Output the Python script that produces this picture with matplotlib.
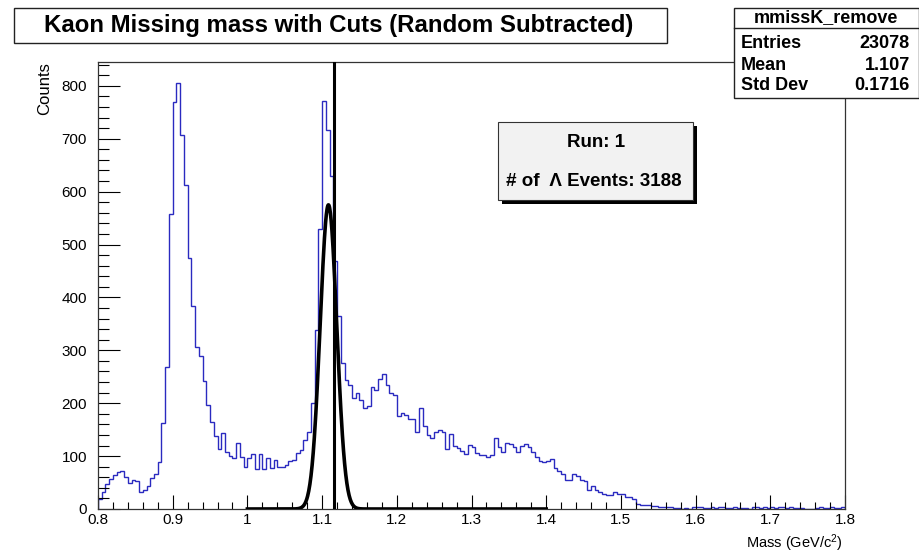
import numpy as np
import matplotlib
matplotlib.use("Agg")
import matplotlib.pyplot as plt
from matplotlib.patches import Rectangle
from matplotlib.ticker import MultipleLocator

plt.rcParams['font.family'] = ['Liberation Sans', 'DejaVu Sans']
plt.rcParams['mathtext.fontset'] = 'custom'
plt.rcParams['mathtext.rm'] = 'Liberation Sans'
plt.rcParams['mathtext.it'] = 'Liberation Sans:italic'

# ---------------- data ----------------
x_min, x_max, n_bins = 0.8, 1.8, 200
counts_a = [18, 33, 47, 56, 64, 69, 72, 61, 50, 54, 52, 32, 36, 43, 58, 66, 89, 162, 269, 557,
            769, 805, 707, 613, 474, 384, 307, 290, 242, 197, 165, 138, 113, 144, 108, 100, 97, 124, 98, 79]
counts_b = [96, 104, 75, 104, 75, 96, 78, 92, 80, 80, 83, 90, 93, 105, 112, 130, 146, 200, 339, 530,
            772, 717, 629, 468, 364, 276, 244, 235, 209, 219, 206, 190, 195, 230, 225, 245, 255, 235, 220, 216]
counts_c = [175, 181, 177, 170, 170, 146, 190, 156, 140, 134, 146, 149, 146, 113, 142, 119, 115, 110, 104, 121,
            118, 105, 102, 102, 99, 102, 134, 118, 108, 125, 123, 118, 107, 120, 123, 118, 108, 98, 90, 88]
counts_d = [90, 94, 77, 71, 67, 55, 55, 66, 62, 55, 52, 36, 43, 36, 33, 28, 26, 26, 32, 28,
            28, 23, 23, 18, 10, 8, 7, 7, 6, 5, 4, 4, 3, 3, 2, 2, 0, 1, 0, 3]
counts_e = [3, 3, 2, 1, 3, 2, 3, 3, 1, 2, 3, 2, 2, 1, 0, 3, 3, 2, 3, 2,
            3, 2, 3, 4, 2, 3, 2, 1, 1, 0, 0, 0, 2, 3, 2, 2, 3, 2, 2, 4]
counts = np.array(counts_a + counts_b + counts_c + counts_d + counts_e, dtype=float)

# Gaussian fit parameters
fit_amp, fit_mean, fit_sigma = 575.0, 1.1085, 0.0111
fit_range = (1.0, 1.4)
lambda_mass = 1.115683

title = "Kaon Missing mass with Cuts (Random Subtracted)"
stats_name = "mmissK_remove"
stats_labels = ["Entries", "Mean", "Std Dev"]
stats_values = ["23078", "1.107", "0.1716"]
run_text = "Run: 1"
events_text = "# of  \u039b Events: 3188"

W, H = 920, 553
def fx(px):
    return px / W
def fy(py):
    return 1 - py / H

fig = plt.figure(figsize=(W / 100, H / 100), dpi=100)
fig.patch.set_facecolor('white')
ax = fig.add_axes([fx(98), fy(509), (845 - 98) / W, (509 - 62) / H])

edges = np.linspace(x_min, x_max, n_bins + 1)
ax.stairs(counts, edges, color='#2a2ac0', lw=1.0, baseline=0)

xf = np.linspace(fit_range[0], fit_range[1], 800)
yf = fit_amp * np.exp(-0.5 * ((xf - fit_mean) / fit_sigma) ** 2)
ax.plot(xf, yf, color='black', lw=2.6, zorder=3)
ax.axvline(lambda_mass, color='black', lw=2.2, zorder=4)

ax.set_xlim(x_min, x_max)
ax.set_ylim(0, 845)
ax.xaxis.set_minor_locator(MultipleLocator(0.02))
ax.yaxis.set_major_locator(MultipleLocator(100))
ax.yaxis.set_minor_locator(MultipleLocator(20))
xt = np.round(np.arange(0.8, 1.81, 0.1), 1)
ax.set_xticks(xt)
ax.set_xticklabels([f"{v:g}" for v in xt])
ax.tick_params(axis='x', which='major', direction='in', length=10, width=0.8, labelsize=11, pad=3)
ax.tick_params(axis='x', which='minor', direction='in', length=5, width=0.8)
ax.tick_params(axis='y', which='major', direction='in', length=16, width=0.8, labelsize=11, pad=8)
ax.tick_params(axis='y', which='minor', direction='in', length=8, width=0.8)
for s in ax.spines.values():
    s.set_color('#333333')
    s.set_linewidth(0.9)

fig.text(fx(45), fy(62), "Counts", rotation=90, ha='center', va='top', fontsize=12)
fig.text(fx(843), fy(543), "Mass (GeV/c$^{2}$)", ha='right', va='center', fontsize=10.5)

# title box
fig.patches.append(Rectangle((fx(14), fy(43)), (667 - 14) / W, (43 - 8) / H,
                             transform=fig.transFigure, facecolor='white', edgecolor='#222222', lw=1.0))
fig.text(fx(339), fy(25.5), title, ha='center', va='center', fontsize=17.3, fontweight='bold')

# stats box
fig.patches.append(Rectangle((fx(734), fy(98)), (919 - 734) / W, (98 - 8) / H,
                             transform=fig.transFigure, facecolor='white', edgecolor='#222222', lw=1.0, zorder=10))
fig.add_artist(plt.Line2D([fx(734), fx(919)], [fy(28), fy(28)], transform=fig.transFigure,
                          color='#222222', lw=1.0, zorder=11))
fig.text(fx(826), fy(18), stats_name, ha='center', va='center', fontsize=13, fontweight='bold', zorder=12)
for i, (lab, val) in enumerate(zip(stats_labels, stats_values)):
    yy = 44 + i * 21
    fig.text(fx(741), fy(yy), lab, ha='left', va='center', fontsize=13, fontweight='bold', zorder=12)
    fig.text(fx(910), fy(yy), val, ha='right', va='center', fontsize=13, fontweight='bold', zorder=12)

# run/events box with shadow
fig.patches.append(Rectangle((fx(502), fy(204)), (693 - 498) / W, (200 - 122) / H,
                             transform=fig.transFigure, facecolor='black', edgecolor='black', lw=0, zorder=8))
fig.patches.append(Rectangle((fx(498), fy(200)), (693 - 498) / W, (200 - 122) / H,
                             transform=fig.transFigure, facecolor='#f2f2f2', edgecolor='#333333', lw=0.8, zorder=9))
fig.text(fx(596), fy(143), run_text, ha='center', va='center', fontsize=13.5, fontweight='bold', zorder=12)
fig.text(fx(594), fy(182), events_text, ha='center', va='center', fontsize=13.5, fontweight='bold', zorder=12)

fig.savefig("out.png", dpi=100, facecolor='white')
